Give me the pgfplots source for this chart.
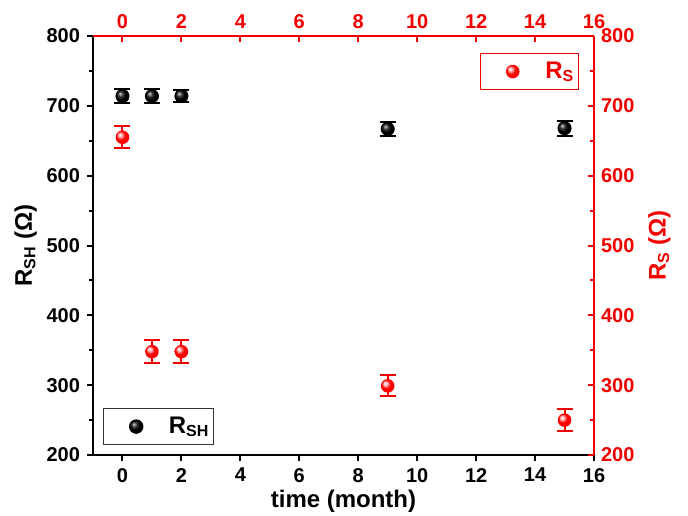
\documentclass[border=0pt]{standalone}
\usepackage{pgfplots}
\pgfplotsset{compat=1.18}
\usepackage{fontspec}
\setmainfont{Liberation Sans}
\definecolor{myred}{rgb}{0.95,0,0}
\pgfdeclareradialshading{redball}{\pgfpoint{-10bp}{10bp}}{color(0bp)=(white); color(7bp)=(red!30!white); color(16bp)=(red); color(32bp)=(red); color(50bp)=(red!70!black)}
\pgfdeclareplotmark{redball}{\pgfpathcircle{\pgfpointorigin}{\pgfplotmarksize}\pgfshadepath{redball}{0}\pgfusepath{}}
\begin{document}
\begin{tikzpicture}
\pgfplotsset{
  every axis/.append style={
    scale only axis, width=250.5pt, height=209.5pt,
    xmin=-1, xmax=16, ymin=200, ymax=800,
    xtick={0,2,...,16}, ytick={200,300,...,800},
    minor y tick num=1,
    axis line style={line width=1pt},
    major tick length=3pt, minor tick length=2pt,
    every tick/.style={line width=1pt},
    tick label style={font=\fontsize{10}{12}\selectfont\bfseries},
    label style={font=\fontsize{12}{14}\selectfont\bfseries},
    /pgf/number format/assume math mode=true,
    legend cell align=left,
    legend image code/.code={\path (0pt,-6pt) (30pt,6pt); \draw[##1] plot coordinates {(16pt,0pt)};},
    legend style={font=\fontsize{12}{14}\selectfont\bfseries, line width=0.6pt, inner xsep=0pt, inner ysep=2pt},
  }
}
\begin{axis}[
  axis x line*=bottom, axis y line*=left,
  tick align=outside,
  xlabel={time (month)},
  ylabel={R\textsubscript{SH} (Ω)},
  xlabel shift=-3pt, ylabel shift=-2pt,
  legend style={at={(0.02,0.024)}, anchor=south west, draw=black!80, text=black},
]
\addplot+[only marks, mark=ball, mark size=3.3pt, ball color=black, draw=black,
  error bars/.cd, y dir=both, y explicit, error mark options={rotate=90, mark size=4pt, line width=1pt, black}, error bar style={line width=1pt, black}]
  coordinates {
  (0,714) +- (0,10)
  (1,714) +- (0,10)
  (2,714) +- (0,9)
  (9,667) +- (0,10)
  (15,668) +- (0,11)
  };
\addlegendentry{R\textsubscript{SH}}
\end{axis}
\begin{axis}[
  axis x line*=top, axis y line*=right,
  tick align=inside,
  axis line style={myred, line width=1pt},
  every tick/.style={myred, line width=1pt},
  tick label style={myred},
  ylabel={R\textsubscript{S} (Ω)},
  ylabel style={myred},
  legend style={at={(0.970,0.959)}, anchor=north east, draw=myred, text=myred},
]
\addplot+[only marks, mark=redball, mark size=3.4pt, draw=myred,
  error bars/.cd, y dir=both, y explicit, error mark options={rotate=90, mark size=4pt, line width=1pt, myred}, error bar style={line width=1pt, myred}]
  coordinates {
  (0,655) +- (0,16)
  (1,348) +- (0,16)
  (2,348) +- (0,16)
  (9,299) +- (0,15)
  (15,250) +- (0,16)
  };
\addlegendentry{R\textsubscript{S}}
\coordinate (bl) at (rel axis cs:0,0);
\end{axis}
\pgfresetboundingbox
\path (bl) ++(-46.5pt,-30pt) rectangle ++(344pt,257.5pt);
\end{tikzpicture}
\end{document}
